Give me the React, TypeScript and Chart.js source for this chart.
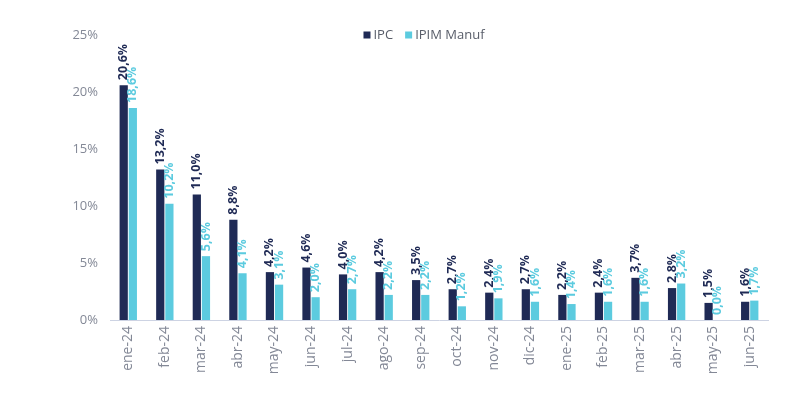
import React, { useEffect, useRef } from "react";
import { Chart, registerables } from "chart.js";

Chart.register(...registerables);

const categories = ["ene-24","feb-24","mar-24","abr-24","may-24","jun-24","jul-24","ago-24","sep-24","oct-24","nov-24","dic-24","ene-25","feb-25","mar-25","abr-25","may-25","jun-25"];
const ipc = [20.6, 13.2, 11.0, 8.8, 4.2, 4.6, 4.0, 4.2, 3.5, 2.7, 2.4, 2.7, 2.2, 2.4, 3.7, 2.8, 1.5, 1.6];
const ipim = [18.6, 10.2, 5.6, 4.1, 3.1, 2.0, 2.7, 2.2, 2.2, 1.2, 1.9, 1.6, 1.4, 1.6, 1.6, 3.2, 0.0, 1.7];
const seriesNames = ["IPC", "IPIM Manuf"];
const yTicks = [0, 5, 10, 15, 20, 25];

const NAVY = "#1f2a55";
const CYAN = "#5ccbdf";
const FONT = "'Open Sans', sans-serif";

const fmt = (v: number) => v.toFixed(1).replace(".", ",") + "%";

const valueLabels = {
  id: "valueLabels",
  afterDatasetsDraw(chart: any) {
    const ctx = chart.ctx;
    chart.data.datasets.forEach((ds: any, i: number) => {
      const meta = chart.getDatasetMeta(i);
      meta.data.forEach((el: any, j: number) => {
        ctx.save();
        ctx.translate(el.x, el.y - 5);
        ctx.rotate(-Math.PI / 2);
        ctx.font = `bold 12.5px ${FONT}`;
        ctx.fillStyle = i === 0 ? NAVY : CYAN;
        ctx.textAlign = "left";
        ctx.textBaseline = "middle";
        ctx.fillText(fmt(ds.data[j]), 0, 0);
        ctx.restore();
      });
    });
  },
};

const customLegend = {
  id: "customLegend",
  afterDraw(chart: any) {
    const ctx = chart.ctx;
    ctx.save();
    ctx.font = `13px ${FONT}`;
    ctx.textBaseline = "middle";
    ctx.textAlign = "left";
    const box = 7;
    const gapBox = 3;
    const gapItem = 12;
    const items = chart.data.datasets.map((d: any) => ({ label: d.label, color: d.backgroundColor }));
    const widths = items.map((it: any) => box + gapBox + ctx.measureText(it.label).width);
    const total = widths.reduce((a: number, b: number) => a + b, 0) + gapItem * (items.length - 1);
    let x = 416 - total / 2;
    const y = 27;
    items.forEach((it: any, k: number) => {
      ctx.fillStyle = it.color;
      ctx.fillRect(x, y - box / 2, box, box);
      ctx.fillStyle = "#585d69";
      ctx.fillText(it.label, x + box + gapBox, y);
      x += widths[k] + gapItem;
    });
    ctx.restore();
  },
};

export default function App() {
  const ref = useRef<HTMLCanvasElement | null>(null);
  useEffect(() => {
    if (!ref.current) return;
    const chart = new Chart(ref.current, {
      type: "bar",
      data: {
        labels: categories,
        datasets: [
          { label: seriesNames[0], data: ipc, backgroundColor: NAVY, categoryPercentage: 0.5, barPercentage: 0.9 },
          { label: seriesNames[1], data: ipim, backgroundColor: CYAN, categoryPercentage: 0.5, barPercentage: 0.9 },
        ],
      },
      options: {
        animation: false,
        responsive: true,
        maintainAspectRatio: false,
        layout: { padding: { top: 27, right: 24, left: 0, bottom: 0 } },
        plugins: { legend: { display: false }, tooltip: { enabled: false } },
        scales: {
          x: {
            grid: { display: false, drawTicks: false },
            border: { display: true, color: "#cdd3e3", width: 1 },
            ticks: {
              minRotation: 90,
              maxRotation: 90,
              padding: 6,
              color: "#838896",
              font: { family: FONT, size: 14 },
              autoSkip: false,
            },
            afterFit: (s: any) => { s.height = 83; },
          },
          y: {
            min: 0,
            max: 25,
            afterBuildTicks: (s: any) => { s.ticks = yTicks.map((v) => ({ value: v })); },
            grid: { display: false, drawTicks: false },
            border: { display: false },
            ticks: {
              padding: 12,
              color: "#838896",
              font: { family: FONT, size: 13 },
              callback: (v: any) => v + "%",
            },
            afterFit: (s: any) => { s.width = 102; },
          },
        },
      },
      plugins: [valueLabels, customLegend],
    });
    return () => chart.destroy();
  }, []);
  return (
    <div style={{ width: "100%", height: "395px", position: "relative" }}>
      <canvas ref={ref} />
    </div>
  );
}
